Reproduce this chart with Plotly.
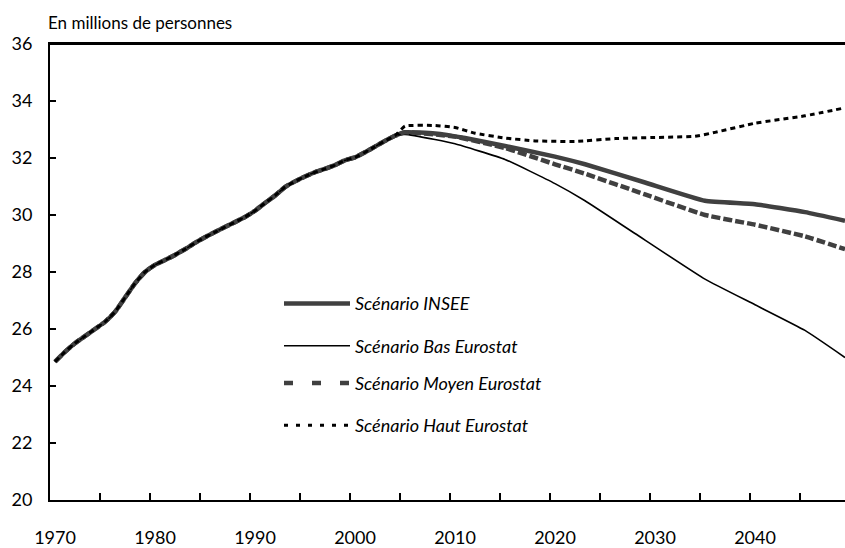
import plotly.graph_objects as go

# ---------------- data ----------------
hist_years = list(range(1970, 2005))
hist_values = [24.85, 25.2, 25.5, 25.75, 26.0, 26.25, 26.6, 27.1, 27.6, 28.0,
               28.25, 28.42, 28.6, 28.8, 29.02, 29.22, 29.4, 29.58, 29.75, 29.93,
               30.15, 30.42, 30.68, 30.98, 31.18, 31.35, 31.5, 31.62, 31.75, 31.92,
               32.02, 32.2, 32.4, 32.6, 32.78]

insee_years = [2005, 2008, 2011, 2015, 2020, 2023, 2029, 2035, 2040, 2045, 2049]
insee_values = [32.9, 32.86, 32.7, 32.42, 32.05, 31.78, 31.14, 30.5, 30.38, 30.1, 29.8]

bas_years = [2005, 2008, 2010, 2015, 2020, 2023, 2028, 2035, 2040, 2045, 2049]
bas_values = [32.83, 32.65, 32.5, 31.95, 31.1, 30.5, 29.35, 27.75, 26.85, 25.95, 25.0]

moyen_years = [2005, 2010, 2015, 2020, 2023, 2029, 2035, 2040, 2045, 2049]
moyen_values = [32.9, 32.75, 32.35, 31.78, 31.45, 30.72, 30.0, 29.66, 29.25, 28.8]

haut_years = [2005, 2008, 2010, 2012, 2015, 2018, 2022, 2026, 2030, 2034, 2036, 2040, 2045, 2049]
haut_values = [33.12, 33.14, 33.07, 32.87, 32.7, 32.6, 32.58, 32.68, 32.72, 32.76, 32.9, 33.22, 33.48, 33.76]

series_names = ["Scénario INSEE", "Scénario Bas Eurostat",
                "Scénario Moyen Eurostat", "Scénario Haut Eurostat"]

year_ticks = [1969.5 + 5 * i for i in range(16)]
year_labels = ["1970", "", "1980", "", "1990", "", "2000", "", "2010", "",
               "2020", "", "2030", "", "2040", ""]

y_title = "En millions de personnes"

# ---------------- styles ----------------
styles = [
    dict(color="#404040", width=4.5, dash="solid"),
    dict(color="#000000", width=1.6, dash="solid"),
    dict(color="#404040", width=4.5, dash="9px,3px"),
    dict(color="#000000", width=3, dash="5px,4px"),
]
legend_dash = ["solid", "solid", "9px,19px", "4px,8px"]

FONT = "Lato"

fig = go.Figure()
proj = [(insee_years, insee_values), (bas_years, bas_values),
        (moyen_years, moyen_values), (haut_years, haut_values)]
for (py, pv), name, st in zip(proj, series_names, styles):
    fig.add_trace(go.Scatter(
        x=hist_years + py, y=hist_values + pv, mode="lines", name=name,
        line=dict(color=st["color"], width=st["width"], dash=st["dash"],
                  shape="spline", smoothing=0.4),
        showlegend=False, hoverinfo="skip",
    ))

# manual legend (long samples as in the original)
L, R, T, B = 50, 845, 44, 508
W, H = R - L, B - T
leg_rows = [308, 351, 389, 432]
for name, st, ld, ry in zip(series_names, styles, legend_dash, leg_rows):
    yp = (B - ry) / H
    fig.add_shape(type="line", xref="paper", yref="paper",
                  x0=(284 - L) / W, x1=(350 - L) / W, y0=yp, y1=yp,
                  line=dict(color=st["color"], width=st["width"], dash=ld))
    fig.add_annotation(xref="paper", yref="paper", x=(353 - L) / W, y=yp,
                       text=name, showarrow=False, xanchor="left", yanchor="middle",
                       font=dict(family=FONT, size=18, color="#000000", style="italic"))

# top frame line
fig.add_shape(type="line", xref="paper", yref="paper", x0=0, x1=1, y0=1, y1=1,
              line=dict(color="black", width=2))

fig.add_annotation(xref="paper", yref="paper", x=(46 - L) / W, y=(B - 22) / H,
                   text=y_title, showarrow=False, xanchor="left", yanchor="middle",
                   font=dict(family=FONT, size=17, color="#000000"))

fig.update_layout(
    width=845, height=548,
    margin=dict(l=L, r=845 - R, t=T, b=548 - B),
    paper_bgcolor="white", plot_bgcolor="white",
    font=dict(family=FONT, size=18, color="#000000"),
    xaxis=dict(range=[1969.5, 2049], tickvals=year_ticks, ticktext=year_labels,
               ticks="inside", ticklen=7, tickwidth=1.5, tickcolor="black",
               showline=True, linewidth=2, linecolor="black", mirror=True,
               showgrid=False, zeroline=False, ticklabelshift=5,
               ticklabelstandoff=20, tickfont=dict(size=18)),
    yaxis=dict(range=[20, 36], dtick=2, tick0=20,
               ticks="inside", ticklen=6, tickwidth=1.5, tickcolor="black",
               showline=True, linewidth=2, linecolor="black",
               showgrid=False, zeroline=False, ticklabelstandoff=12,
               tickfont=dict(size=18)),
)

fig.write_html("out.html",
               config={"displayModeBar": False},
               post_script="document.body.style.margin='0';document.body.style.overflow='hidden';")
